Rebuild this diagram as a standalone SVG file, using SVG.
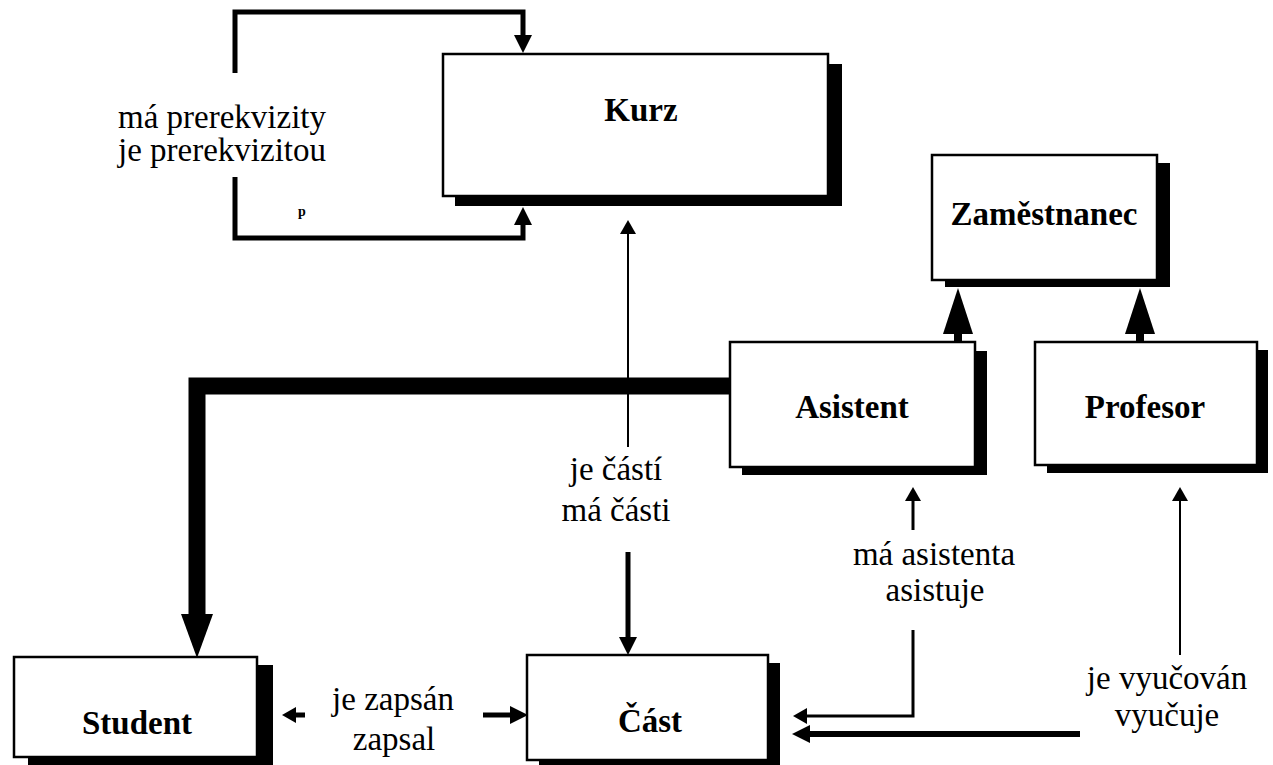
<svg xmlns="http://www.w3.org/2000/svg" width="1273" height="765" viewBox="0 0 1273 765">
<style>
  .shadow { fill: #000; }
  .box { fill: #fff; stroke: #000; stroke-width: 2.5; }
  .name { font-family: "Liberation Serif", "Times New Roman", serif; font-weight: bold; font-size: 33px; text-anchor: middle; fill: #000; }
  .lbl { font-family: "Liberation Serif", "Times New Roman", serif; font-size: 33px; text-anchor: middle; fill: #000; }
  .c { fill: none; stroke: #000; stroke-linecap: butt; stroke-linejoin: miter; }
</style>
<defs>
  <marker id="ah" markerUnits="userSpaceOnUse" markerWidth="18" markerHeight="18" refX="0" refY="9" orient="auto">
    <path d="M0,0 L18,9 L0,18 z" fill="#000"/>
  </marker>
  <marker id="ahs" markerUnits="userSpaceOnUse" markerWidth="14" markerHeight="16" refX="0" refY="8" orient="auto">
    <path d="M0,0 L14,8 L0,16 z" fill="#000"/>
  </marker>
  <marker id="big" markerUnits="userSpaceOnUse" markerWidth="44" markerHeight="32" refX="0" refY="16" orient="auto">
    <path d="M0,0 L44,16 L0,32 z" fill="#000"/>
  </marker>
  <marker id="gen" markerUnits="userSpaceOnUse" markerWidth="46" markerHeight="32" refX="0" refY="16" orient="auto">
    <path d="M0,1 L46,16 L0,31 z" fill="#000"/>
  </marker>
</defs>
<rect width="1273" height="765" fill="#fff"/>

<g id="connectors">
  <path class="c" d="M235,73 V12 H523 V35" stroke-width="5" marker-end="url(#ah)"/>
  <path class="c" d="M235,177 V238 H523 V225" stroke-width="5" marker-end="url(#ah)"/>
  <path class="c" d="M628,447 V234" stroke-width="2" marker-end="url(#ahs)"/>
  <path class="c" d="M628,552 V637" stroke-width="5" marker-end="url(#ah)"/>
  <path class="c" d="M730,386 H197 V614" stroke-width="17" marker-end="url(#big)"/>
  <path class="c" d="M958,342 V334" stroke-width="8" marker-end="url(#gen)"/>
  <path class="c" d="M1140,342 V334" stroke-width="8" marker-end="url(#gen)"/>
  <path class="c" d="M913,530 V501" stroke-width="3" marker-end="url(#ahs)"/>
  <path class="c" d="M913,630 V716 H807" stroke-width="3" marker-end="url(#ahs)"/>
  <path class="c" d="M1080,734 H810" stroke-width="6" marker-end="url(#ah)"/>
  <path class="c" d="M1180,655 V501" stroke-width="2" marker-end="url(#ahs)"/>
  <path class="c" d="M305,715 H296" stroke-width="5" marker-end="url(#ahs)"/>
  <path class="c" d="M483,715 H510" stroke-width="5" marker-end="url(#ah)"/>
</g>

<g id="kurz">
  <rect class="shadow" x="455" y="64" width="387" height="142"/>
  <rect class="box" x="443" y="54" width="385" height="142"/>
  <text class="name" x="641" y="121">Kurz</text>
</g>
<g id="zamestnanec">
  <rect class="shadow" x="945" y="163" width="225" height="124"/>
  <rect class="box" x="932" y="155" width="225" height="125"/>
  <text class="name" x="1044" y="225">Zaměstnanec</text>
</g>
<g id="asistent">
  <rect class="shadow" x="742" y="351" width="245" height="124"/>
  <rect class="box" x="730" y="342" width="245" height="125"/>
  <text class="name" x="852" y="418">Asistent</text>
</g>
<g id="profesor">
  <rect class="shadow" x="1047" y="350" width="221" height="123"/>
  <rect class="box" x="1035" y="342" width="222" height="123"/>
  <text class="name" x="1145" y="418">Profesor</text>
</g>
<g id="student">
  <rect class="shadow" x="28" y="665" width="245" height="100"/>
  <rect class="box" x="14" y="657" width="243" height="100"/>
  <text class="name" x="137" y="734">Student</text>
</g>
<g id="cast">
  <rect class="shadow" x="539" y="663" width="241" height="102"/>
  <rect class="box" x="527" y="655" width="241" height="105"/>
  <text class="name" x="650" y="732">Část</text>
</g>

<g id="labels">
  <text class="lbl" x="222" y="128">má prerekvizity</text>
  <text class="lbl" x="222" y="161">je prerekvizitou</text>
  <text class="lbl" x="302" y="216" style="font-size:14px;font-weight:bold">p</text>
  <text class="lbl" x="616" y="480">je částí</text>
  <text class="lbl" x="616" y="521">má části</text>
  <text class="lbl" x="934" y="565">má asistenta</text>
  <text class="lbl" x="935" y="601">asistuje</text>
  <text class="lbl" x="393" y="710">je zapsán</text>
  <text class="lbl" x="394" y="750">zapsal</text>
  <text class="lbl" x="1167" y="689">je vyučován</text>
  <text class="lbl" x="1167" y="726">vyučuje</text>
</g>
</svg>
